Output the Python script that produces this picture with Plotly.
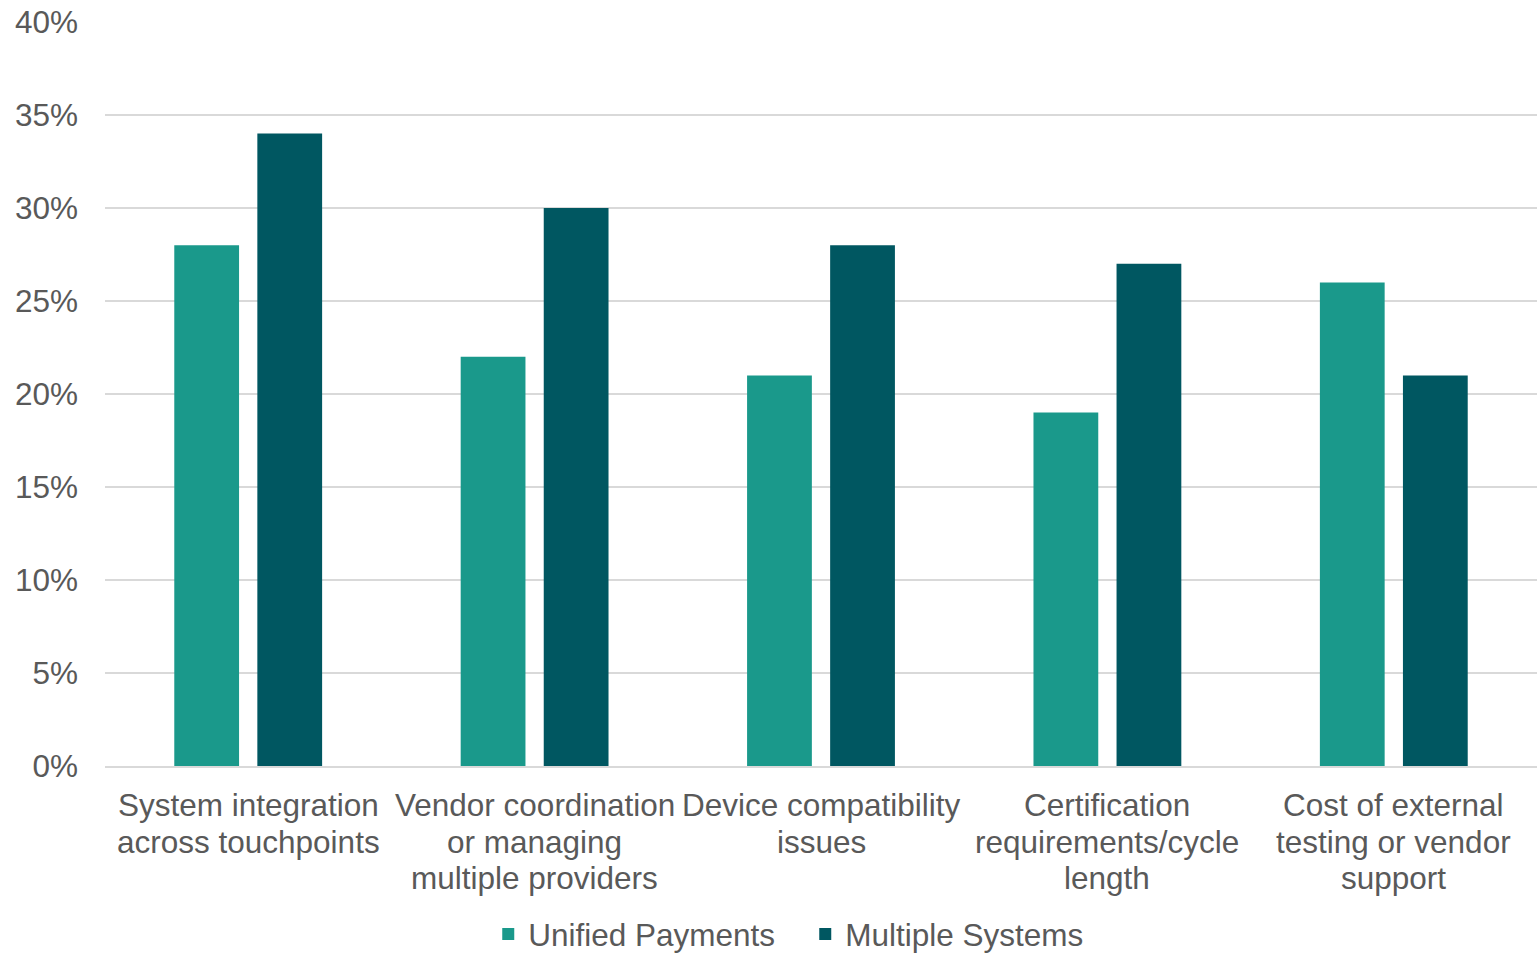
import plotly.graph_objects as go

categories = [
    "System integration<br>across touchpoints",
    "Vendor coordination<br>or managing<br>multiple providers",
    "Device compatibility<br>issues",
    "Certification<br>requirements/cycle<br>length",
    "Cost of external<br>testing or vendor<br>support",
]
unified_payments = [28, 22, 21, 19, 26]
multiple_systems = [34, 30, 28, 27, 21]
y_ticks = [0, 5, 10, 15, 20, 25, 30, 35, 40]
y_tick_labels = [f"{v}%" for v in y_ticks]

FONT = "Liberation Sans"
TEXT = "#595959"
GRID = "#D9D9D9"
SIZE = 31.5
LINE_GAP = 36.5      # spacing between wrapped category-label lines, px
FIRST_LINE = 39      # distance from axis to centre of first label line, px

fig = go.Figure()
fig.add_trace(go.Bar(name="Unified Payments", x=categories, y=unified_payments,
                     marker=dict(color="#1A998B", line=dict(width=0))))
fig.add_trace(go.Bar(name="Multiple Systems", x=categories, y=multiple_systems,
                     marker=dict(color="#005761", line=dict(width=0))))

# category labels, one annotation per wrapped line for tighter line spacing
annotations = []
for cat in categories:
    for i, line in enumerate(cat.split("<br>")):
        annotations.append(dict(
            x=cat, xref="x", y=0, yref="paper", text=line, showarrow=False,
            xanchor="center", yanchor="middle", yshift=-(FIRST_LINE + i * LINE_GAP),
            font=dict(family=FONT, size=SIZE, color=TEXT),
        ))

fig.update_layout(
    width=1537, height=955,
    margin=dict(l=105, r=0, t=22, b=189, autoexpand=False),
    paper_bgcolor="white", plot_bgcolor="white",
    barmode="group", bargap=0.42, bargroupgap=0.22,
    font=dict(family=FONT, size=SIZE, color=TEXT),
    showlegend=True,
    legend=dict(orientation="h", x=0.489, xanchor="center",
                y=-0.226, yanchor="middle",
                font=dict(family=FONT, size=SIZE, color=TEXT),
                itemwidth=30, entrywidth=272, traceorder="normal"),
    annotations=annotations,
    xaxis=dict(showgrid=False, showline=True, linecolor=GRID, linewidth=2,
               ticks="", showticklabels=False, automargin=False),
    yaxis=dict(range=[0, 40], tickmode="array", tickvals=y_ticks, ticktext=y_tick_labels,
               showgrid=True, gridcolor=GRID, gridwidth=2, automargin=False,
               zeroline=False, showline=False, ticks="", ticklabelstandoff=26,
               tickfont=dict(family=FONT, size=SIZE, color=TEXT)),
)

fig.write_html("out.html")
